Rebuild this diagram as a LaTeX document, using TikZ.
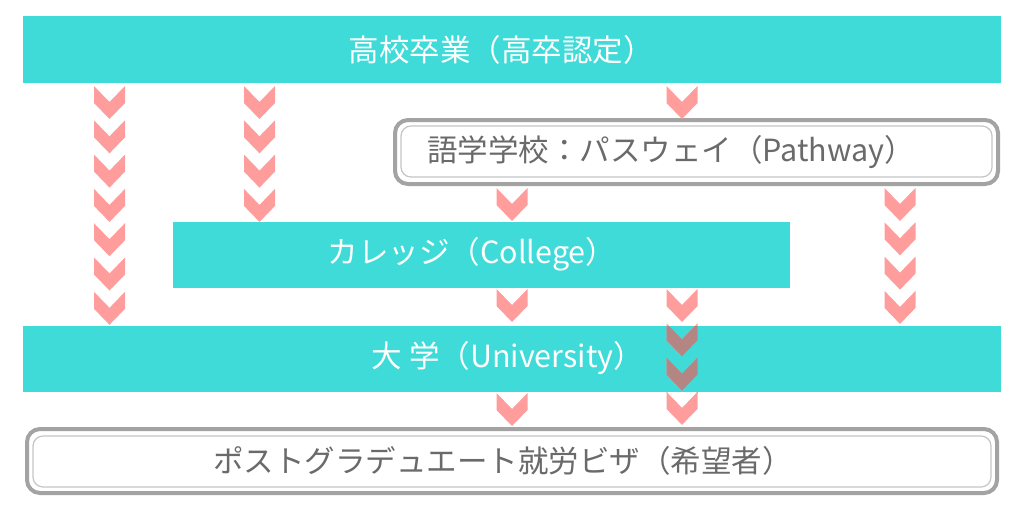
\documentclass[tikz,border=0pt]{standalone}
\usepackage{fontspec}
\newfontfamily\jp{Noto Sans CJK JP}
\definecolor{teal1}{HTML}{3FDBD8}
\definecolor{pinkc}{HTML}{FF9C9C}
\definecolor{darkc}{HTML}{B38684}
\definecolor{bordc}{HTML}{A3A3A3}
\definecolor{innerc}{HTML}{C4C4C4}
\definecolor{textg}{HTML}{6A6A6A}
\tikzset{
  bar/.style={fill=teal1, draw=none},
  bartext/.style={text=white, font=\jp\fontsize{30.5}{36}\selectfont, inner sep=0pt},
  boxtext/.style={text=textg, font=\jp\fontsize{30.5}{36}\selectfont, inner sep=0pt},
  outerbox/.style={draw=bordc, line width=4pt, rounded corners=13pt},
  innerbox/.style={draw=innerc, line width=1.2pt, rounded corners=10pt},
  chevron/.pic={
    \fill (-15.5,0) -- (0,16) -- (15.5,0) -- (15.5,17) -- (0,33) -- (-15.5,17) -- cycle;
  }
}
\begin{document}
\begin{tikzpicture}[x=1pt,y=-1pt]
\useasboundingbox (0,0) rectangle (1024,512);
% bars
\fill[bar] (23,16) rectangle (1001,83);
\node[bartext] (top) at (501,50) {高校卒業（高卒認定）};
\fill[bar] (173,222) rectangle (790,288);
\node[bartext] (college) at (472,254) {カレッジ（College）};
\fill[bar] (23,326) rectangle (1001,392);
\node[bartext] (univ) at (508,358) {大 学（University）};
% pathway box
\draw[outerbox] (395,120) rectangle (998,184);
\draw[innerbox] (401,126) rectangle (992,177);
\node[boxtext] (pathway) at (671,152) {語学学校：パスウェイ（Pathway）};
% bottom box
\draw[outerbox] (27,429) rectangle (997,493);
\draw[innerbox] (33,436) rectangle (991,487);
\node[boxtext] (visa) at (503,461) {ポストグラデュエート就労ビザ（希望者）};
% chevrons
\begin{scope}[fill=pinkc]
\foreach \k in {0,...,6} \pic[fill=pinkc] at (109.5,{86+34.3*\k}) {chevron};
\foreach \k in {0,...,3} \pic[fill=pinkc] at (259.5,{86+34.3*\k}) {chevron};
\pic[fill=pinkc] at (682,86) {chevron};
\pic[fill=pinkc] at (512,188) {chevron};
\foreach \k in {0,...,3} \pic[fill=pinkc] at (900,{188+34.3*\k}) {chevron};
\pic[fill=pinkc] at (512,289) {chevron};
\pic[fill=pinkc] at (512,393) {chevron};
\foreach \k in {0,...,3} \pic[fill=pinkc] at (682,{289+34.3*\k}) {chevron};
\end{scope}
\begin{scope}
\clip (23,326) rectangle (1001,392);
\foreach \k in {0,...,3} \pic[fill=darkc] at (682,{289+34.3*\k}) {chevron};
\end{scope}
\end{tikzpicture}
\end{document}
